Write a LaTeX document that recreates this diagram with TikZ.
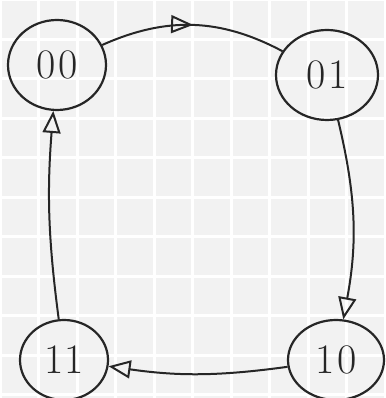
\documentclass[tikz,border=0pt]{standalone}
\usepackage{fontspec}
\usetikzlibrary{shapes.geometric,arrows.meta,decorations.markings}
\definecolor{paper}{HTML}{F2F2F2}
\definecolor{ink}{HTML}{262626}
\tikzset{
  state/.style={ellipse,draw=ink,line width=2.2pt,inner sep=0pt,font=\fontsize{42}{42}\selectfont,text=ink},
  conn/.style={draw=ink,line width=2pt},
  openhead/.style={-{Triangle[open,length=22pt,width=18pt,line width=2pt]}},
  midhead/.style={postaction={decorate},decoration={markings,
     mark=at position 0.5 with {\arrow{Triangle[open,length=22pt,width=18pt,line width=2pt]}}}}
}
\begin{document}
\begin{tikzpicture}[x=1pt,y=1pt]
\useasboundingbox (0,0) rectangle (385,398);
\fill[paper] (0,0) rectangle (385,398);
\foreach \i in {0,...,10} {
  \fill[white] ({\i*38.5-1.5},0) rectangle ({\i*38.5+1.5},398);
}
\foreach \j in {0,...,10} {
  \fill[white] (0,{398-\j*39.5-1.5}) rectangle (385,{398-\j*39.5+1.5});
}
\node[state,minimum width=98pt,minimum height=90pt] (n00) at (57,333) {0\hspace{3pt}0};
\node[state,minimum width=102pt,minimum height=90pt] (n01) at (327,323) {0\hspace{3pt}1};
\node[state,minimum width=96pt,minimum height=80pt] (n10) at (336,38) {1\hspace{3pt}0};
\node[state,minimum width=88pt,minimum height=80pt] (n11) at (64,38) {1\hspace{1pt}1};
\draw[conn,midhead] (n00) to[bend left=26] (n01);
\draw[conn,openhead] (n01) to[bend left=12] (n10);
\draw[conn,openhead] (n10) to[bend left=8] (n11);
\draw[conn,openhead] (n11) to[bend left=6] (n00);
\end{tikzpicture}
\end{document}
